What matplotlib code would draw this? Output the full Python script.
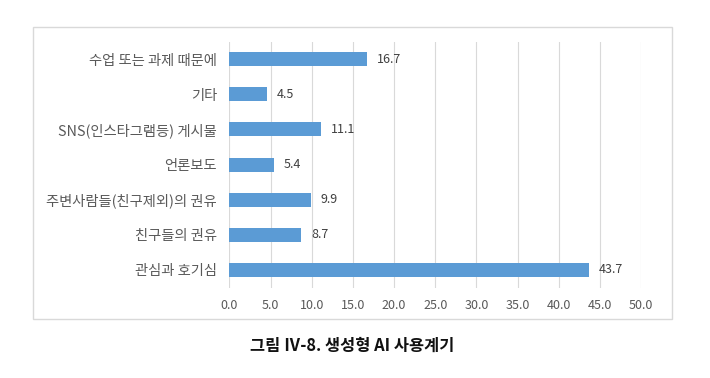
import matplotlib.pyplot as plt
from matplotlib.patches import Rectangle

plt.rcParams['font.family'] = ['Noto Sans CJK KR', 'DejaVu Sans']

categories = ['관심과 호기심', '친구들의 권유', '주변사람들(친구제외)의 권유', '언론보도',
              'SNS(인스타그램등) 게시물', '기타', '수업 또는 과제 때문에']
values = [43.7, 8.7, 9.9, 5.4, 11.1, 4.5, 16.7]
xticks = [0, 5, 10, 15, 20, 25, 30, 35, 40, 45, 50]

fig = plt.figure(figsize=(7.1, 3.78), dpi=100)
ax = fig.add_axes([0.3232, 0.2394, 0.5796, 0.6506])

ypos = range(len(categories))
ax.barh(ypos, values, height=0.4, color='#5B9BD5', zorder=3)
for y, v in zip(ypos, values):
    ax.text(v + 1.2, y, f'{v:.1f}', va='center', ha='left', fontsize=9, color='#404040')

ax.set_xlim(0, 50)
ax.set_ylim(-0.5, len(categories) - 0.5)
ax.set_xticks(xticks)
ax.set_xticklabels([f'{t:.1f}' for t in xticks], fontsize=9, color='#595959')
ax.set_yticks(list(ypos))
ax.set_yticklabels(categories, fontsize=10.3, color='#595959')
ax.tick_params(length=0, pad=9)
ax.tick_params(axis='x', pad=8)
ax.grid(axis='x', color='#D9D9D9', linewidth=0.8, zorder=0)
for s in ax.spines.values():
    s.set_visible(False)

fig.patches.append(Rectangle((33 / 710, 1 - 319 / 378), (672 - 33) / 710, (319 - 27) / 378,
                             transform=fig.transFigure, fill=False, edgecolor='#D9D9D9',
                             linewidth=1))

fig.text(352 / 710, 1 - 346 / 378, '그림 Ⅳ-8. 생성형 AI 사용계기', ha='center', va='center',
         fontsize=11.8, fontweight='bold', color='#111111')

fig.savefig('out.png', dpi=100)
